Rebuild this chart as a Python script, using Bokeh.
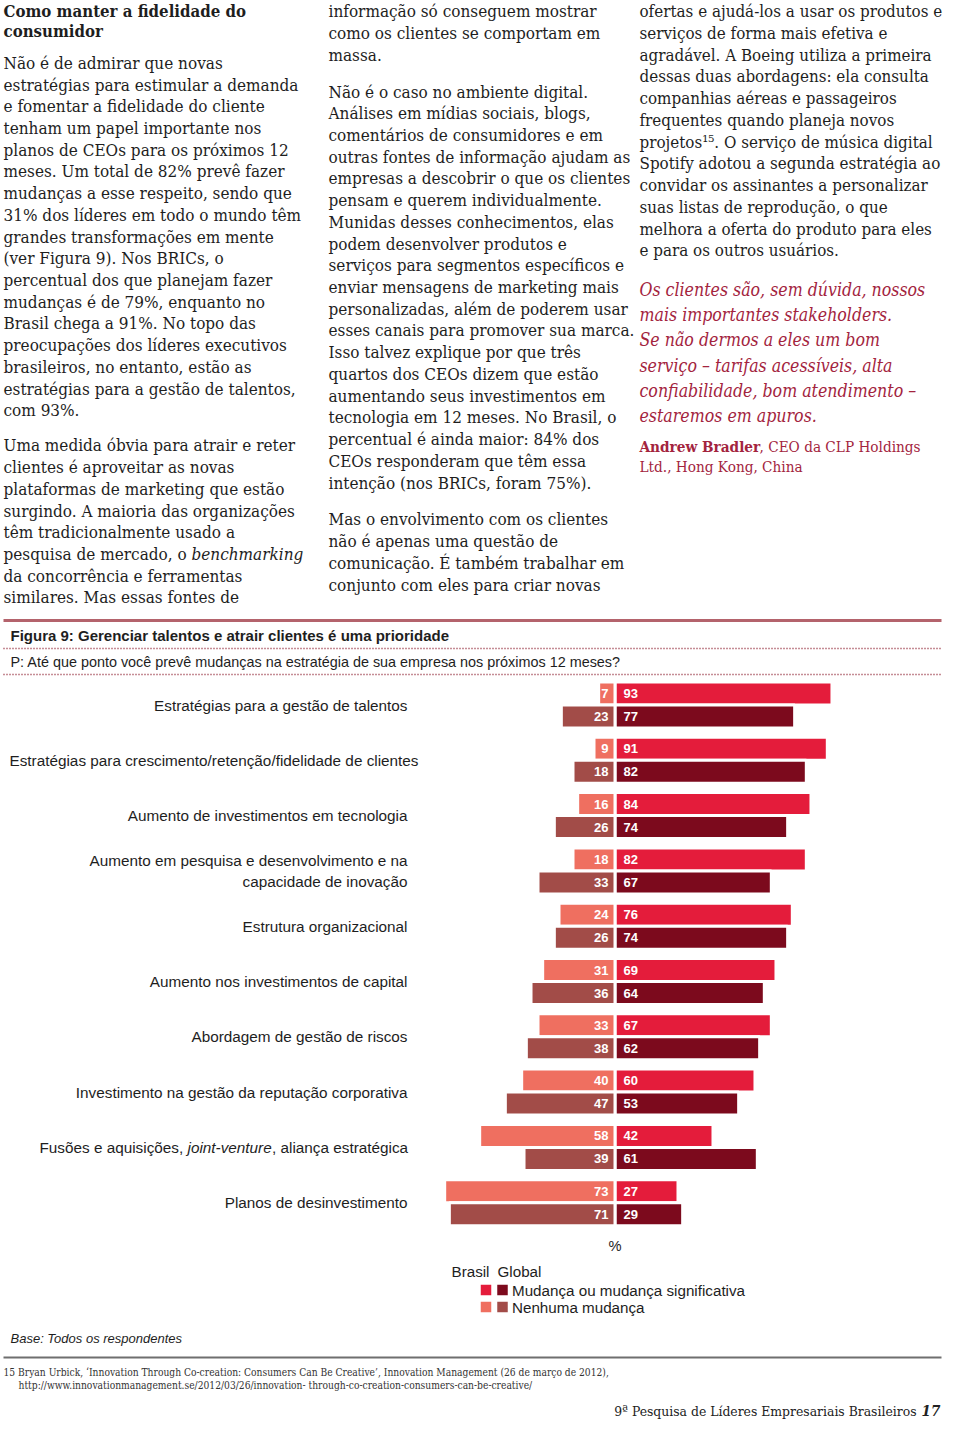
import numpy as np
from bokeh.plotting import figure
from bokeh.models import Range1d, ColumnDataSource
from bokeh.core.properties import value
from bokeh.embed import file_html
from bokeh.resources import INLINE

# ---------------- data ----------------
categories = [
    "Estratégias para a gestão de talentos",
    "Estratégias para crescimento/retenção/fidelidade de clientes",
    "Aumento de investimentos em tecnologia",
    "Aumento em pesquisa e desenvolvimento e na capacidade de inovação",
    "Estrutura organizacional",
    "Aumento nos investimentos de capital",
    "Abordagem de gestão de riscos",
    "Investimento na gestão da reputação corporativa",
    "Fusões e aquisições, joint-venture, aliança estratégica",
    "Planos de desinvestimento",
]
brasil_change = [93, 91, 84, 82, 76, 69, 67, 60, 42, 27]
brasil_none = [7, 9, 16, 18, 24, 31, 33, 40, 58, 73]
global_change = [77, 82, 74, 67, 74, 64, 62, 53, 61, 29]
global_none = [23, 18, 26, 33, 26, 36, 38, 47, 39, 71]
legend_groups = ["Brasil", "Global"]
legend_labels = ["Mudança ou mudança significativa", "Nenhuma mudança"]

# ---------------- page text ----------------
col1_head = ["Como manter a fidelidade do", "consumidor"]
col1_p1 = [
    "Não é de admirar que novas",
    "estratégias para estimular a demanda",
    "e fomentar a fidelidade do cliente",
    "tenham um papel importante nos",
    "planos de CEOs para os próximos 12",
    "meses. Um total de 82% prevê fazer",
    "mudanças a esse respeito, sendo que",
    "31% dos líderes em todo o mundo têm",
    "grandes transformações em mente",
    "(ver Figura 9). Nos BRICs, o",
    "percentual dos que planejam fazer",
    "mudanças é de 79%, enquanto no",
    "Brasil chega a 91%. No topo das",
    "preocupações dos líderes executivos",
    "brasileiros, no entanto, estão as",
    "estratégias para a gestão de talentos,",
    "com 93%.",
]
col1_p2 = [
    "Uma medida óbvia para atrair e reter",
    "clientes é aproveitar as novas",
    "plataformas de marketing que estão",
    "surgindo. A maioria das organizações",
    "têm tradicionalmente usado a",
    [("pesquisa de mercado, o", "normal", 0), ("benchmarking", "italic", 188)],
    "da concorrência e ferramentas",
    "similares. Mas essas fontes de",
]
col2_p1 = [
    "informação só conseguem mostrar",
    "como os clientes se comportam em",
    "massa.",
]
col2_p2 = [
    "Não é o caso no ambiente digital.",
    "Análises em mídias sociais, blogs,",
    "comentários de consumidores e em",
    "outras fontes de informação ajudam as",
    "empresas a descobrir o que os clientes",
    "pensam e querem individualmente.",
    "Munidas desses conhecimentos, elas",
    "podem desenvolver produtos e",
    "serviços para segmentos específicos e",
    "enviar mensagens de marketing mais",
    "personalizadas, além de poderem usar",
    "esses canais para promover sua marca.",
    "Isso talvez explique por que três",
    "quartos dos CEOs dizem que estão",
    "aumentando seus investimentos em",
    "tecnologia em 12 meses. No Brasil, o",
    "percentual é ainda maior: 84% dos",
    "CEOs responderam que têm essa",
    "intenção (nos BRICs, foram 75%).",
]
col2_p3 = [
    "Mas o envolvimento com os clientes",
    "não é apenas uma questão de",
    "comunicação. É também trabalhar em",
    "conjunto com eles para criar novas",
]
col3_p1 = [
    "ofertas e ajudá-los a usar os produtos e",
    "serviços de forma mais efetiva e",
    "agradável. A Boeing utiliza a primeira",
    "dessas duas abordagens: ela consulta",
    "companhias aéreas e passageiros",
    "frequentes quando planeja novos",
    "projetos¹⁵. O serviço de música digital",
    "Spotify adotou a segunda estratégia ao",
    "convidar os assinantes a personalizar",
    "suas listas de reprodução, o que",
    "melhora a oferta do produto para eles",
    "e para os outros usuários.",
]
quote = [
    "Os clientes são, sem dúvida, nossos",
    "mais importantes stakeholders.",
    "Se não dermos a eles um bom",
    "serviço – tarifas acessíveis, alta",
    "confiabilidade, bom atendimento –",
    "estaremos em apuros.",
]
attribution = [
    [("Andrew Bradler", "bold", 0), (", CEO da CLP Holdings", "normal", 120)],
    "Ltd., Hong Kong, China",
]
fig_title = "Figura 9: Gerenciar talentos e atrair clientes é uma prioridade"
fig_question = "P: Até que ponto você prevê mudanças na estratégia de sua empresa nos próximos 12 meses?"
base_note = "Base: Todos os respondentes"
footnote = [
    "15 Bryan Urbick, ‘Innovation Through Co-creation: Consumers Can Be Creative’, Innovation Management (26 de março de 2012),",
    "http://www.innovationmanagement.se/2012/03/26/innovation- through-co-creation-consumers-can-be-creative/",
]
footer = "9ª Pesquisa de Líderes Empresariais Brasileiros"
page_no = "17"

# ---------------- styling ----------------
W, H = 944, 1423
SERIF = "DejaVu Serif Condensed"
SANS = "Liberation Sans"
INK = "#1e1e1e"
QUOTE = "#a3243e"
C_BR_CH = "#e41c3b"
C_GL_CH = "#7c0a1d"
C_BR_NO = "#ef6f60"
C_GL_NO = "#a24c48"

p = figure(width=W, height=H, x_range=Range1d(0, W), y_range=Range1d(H, 0),
           output_backend="svg", toolbar_location=None, min_border=0,
           x_axis_location=None, y_axis_location=None)
p.grid.visible = False
p.outline_line_color = None
p.background_fill_color = "white"
p.border_fill_color = "white"


def txt(x, y, s, size, font=SERIF, style="normal", color=INK, align="left",
        baseline="alphabetic", **kw):
    if baseline == "alphabetic":
        # place by the text's middle, from the intended baseline
        y = y - 0.35 * size
        baseline = "middle"
    p.text(x=[x], y=[y], text=[s], text_font=value(font),
           text_font_size=f"{size:.2f}px", text_font_style=style,
           text_color=color, text_align=align, text_baseline=baseline, **kw)


def block(lines, x, y0, dy, size, style="normal", **kw):
    for i, item in enumerate(lines):
        y = y0 + i * dy
        if isinstance(item, list):
            for s, st, dx in item:
                txt(x + dx, y, s, size, style=st, **kw)
        else:
            txt(x, y, item, size, style=style, **kw)


BODY = 17.0
LH = 21.72
COL3 = 639
block(col1_head, 3, 16.5, 20.0, 16.7, style="bold")
block(col1_p1, 3, 68.3, LH, BODY)
block(col1_p2, 3, 450.8, LH, BODY)
block(col2_p1, 328, 16.7, LH, BODY)
block(col2_p2, 328, 97.0, LH, BODY)
block(col2_p3, 328, 524.8, LH, BODY)
block(col3_p1, COL3, 16.7, LH, 16.85)
block(quote, COL3, 295.5, 25.3, 17.6, style="italic", color=QUOTE)
block(attribution, COL3, 452.0, 19.5, 15.2, color=QUOTE)

# ---------------- figure header ----------------
p.line(x=[3, 941], y=[620, 620], line_color="#b4636c", line_width=3)
txt(10, 635, fig_title, 15.0, font=SANS, style="bold", baseline="middle")
p.line(x=[3, 941], y=[648, 648], line_color="#8c1d2e", line_width=1.5, line_dash="1 2")
txt(10, 661, fig_question, 14.4, font=SANS, baseline="middle")
p.line(x=[3, 941], y=[674, 674], line_color="#8c1d2e", line_width=1.5, line_dash="1 2")

# ---------------- bars ----------------
AXIS_PX = 614.5       # x of the zero line
PX_PER_PCT = 2.333    # pixels per percent
ROW0 = 693.0          # y of first Brasil bar centre
ROW_PX = 55.3         # spacing between groups
p.extra_x_ranges = {"pct": Range1d(-AXIS_PX / PX_PER_PCT, (W - AXIS_PX) / PX_PER_PCT)}
p.extra_y_ranges = {"rows": Range1d((H - ROW0) / ROW_PX, -ROW0 / ROW_PX)}

STEP = 23.0 / ROW_PX
BAR_H = 23.0 / ROW_PX
n = len(categories)
idx = np.arange(n, dtype=float)
src = ColumnDataSource(dict(
    yb=idx, yg=idx + STEP,
    bc=np.array(brasil_change), bn=-np.array(brasil_none),
    gc=np.array(global_change), gn=-np.array(global_none),
    bc_t=[str(v) for v in brasil_change], bn_t=[str(v) for v in brasil_none],
    gc_t=[str(v) for v in global_change], gn_t=[str(v) for v in global_none],
))
kw = dict(source=src, x_range_name="pct", y_range_name="rows", height=BAR_H,
          line_color="white", line_width=3)
p.hbar(y="yb", left=0, right="bc", fill_color=C_BR_CH, **kw)
p.hbar(y="yb", left="bn", right=0, fill_color=C_BR_NO, **kw)
p.hbar(y="yg", left=0, right="gc", fill_color=C_GL_CH, **kw)
p.hbar(y="yg", left="gn", right=0, fill_color=C_GL_NO, **kw)

lab = dict(source=src, x_range_name="pct", y_range_name="rows", text_color="white",
           text_font=value(SANS), text_font_style="bold",
           text_font_size="13px", text_baseline="middle")
p.text(x=0, y="yb", text="bc_t", x_offset=8.5, text_align="left", **lab)
p.text(x=0, y="yg", text="gc_t", x_offset=8.5, text_align="left", **lab)
p.text(x=0, y="yb", text="bn_t", x_offset=-6.5, text_align="right", **lab)
p.text(x=0, y="yg", text="gn_t", x_offset=-6.5, text_align="right", **lab)

# category labels
CAT_FS = 15.3
label_right = {1: 418}
wrap_at = {3: "capacidade"}
for i, cat in enumerate(categories):
    yc = i + STEP / 2
    common = dict(y_range_name="rows", font=SANS, baseline="middle")
    if "joint-venture" in cat:
        a, b = cat.split("joint-venture")
        txt(39, yc, a.rstrip(), CAT_FS, **common)
        txt(187, yc, "joint-venture", CAT_FS, style="italic", **common)
        txt(271.5, yc, b, CAT_FS, **common)
    elif i in wrap_at:
        k = cat.index(wrap_at[i])
        txt(407, yc, cat[:k].strip(), CAT_FS, align="right", y_offset=-10.5, **common)
        txt(407, yc, cat[k:], CAT_FS, align="right", y_offset=10.5, **common)
    else:
        txt(label_right.get(i, 407), yc, cat, CAT_FS, align="right", **common)

# % label and legend
txt(AXIS_PX, 1245, "%", 14.7, font=SANS, align="center", baseline="middle")
txt(451, 1271, legend_groups[0], 15.2, font=SANS, baseline="middle")
txt(497, 1271, legend_groups[1], 15.2, font=SANS, baseline="middle")
p.rect(x=[485.5, 502.0], y=[1289.5, 1289.5], width=10.5, height=10.5,
       fill_color=[C_BR_CH, C_GL_CH], line_color=None)
p.rect(x=[485.5, 502.0], y=[1306.5, 1306.5], width=10.5, height=10.5,
       fill_color=[C_BR_NO, C_GL_NO], line_color=None)
txt(511.5, 1290, legend_labels[0], 15.2, font=SANS, baseline="middle")
txt(511.5, 1307, legend_labels[1], 15.2, font=SANS, baseline="middle")

# base / rule / footnote / footer
txt(10, 1338, base_note, 13.0, font=SANS, style="italic", baseline="middle")
p.line(x=[3, 941], y=[1357, 1357], line_color="#6f6f6f", line_width=2)
txt(3, 1376, footnote[0], 10.2, color="#333333")
txt(18, 1389, footnote[1], 10.2, color="#333333")
txt(916, 1415.5, footer, 13.8, color="#222222", align="right")
txt(921, 1415.5, page_no, 15.0, style="bold italic", color="#222222")

open("out.html", "w").write(file_html(p, INLINE))
